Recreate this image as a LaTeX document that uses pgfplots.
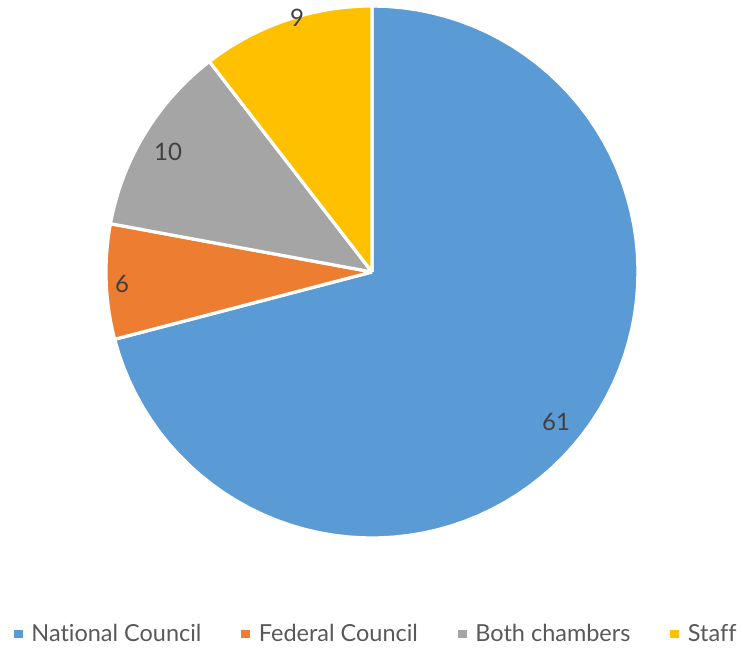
\documentclass[border=0pt]{standalone}
\usepackage{pgfplots}
\pgfplotsset{compat=1.18}
\usepackage{pgfplotstable}
\usepackage{fontspec}
\setmainfont{Lato}[Ligatures={NoCommon}]
\definecolor{cBlue}{HTML}{5B9BD5}
\definecolor{cOrange}{HTML}{ED7D31}
\definecolor{cGray}{HTML}{A5A5A5}
\definecolor{cYellow}{HTML}{FFC000}
\definecolor{lblText}{HTML}{404040}
\definecolor{legText}{HTML}{595959}

\pgfplotstableread{
label value
National 61
Federal 6
Both 10
Staff 9
}\piedata
\pgfplotstablegetelem{0}{value}\of\piedata \let\vA\pgfplotsretval
\pgfplotstablegetelem{1}{value}\of\piedata \let\vB\pgfplotsretval
\pgfplotstablegetelem{2}{value}\of\piedata \let\vC\pgfplotsretval
\pgfplotstablegetelem{3}{value}\of\piedata \let\vD\pgfplotsretval
\pgfmathsetmacro{\tot}{\vA+\vB+\vC+\vD}
\pgfmathsetmacro{\aA}{90}
\pgfmathsetmacro{\aB}{\aA-360*(\vA/\tot)}
\pgfmathsetmacro{\aC}{\aB-360*(\vB/\tot)}
\pgfmathsetmacro{\aD}{\aC-360*(\vC/\tot)}
\pgfmathsetmacro{\aE}{\aD-360*(\vD/\tot)}

\newcommand{\pieslice}[3]{%
  \addplot[fill=#1, draw=white, line width=2.4pt, line join=round,
    variable=\t, samples at={-1,0,...,80,81}]
    ({372+266*(\t>=0)*(\t<=80)*cos(#2+(#3-#2)*max(0,min(80,\t))/80)},
     {377+266*(\t>=0)*(\t<=80)*sin(#2+(#3-#2)*max(0,min(80,\t))/80)});
}

\begin{document}
\begin{tikzpicture}
\begin{axis}[
  scale only axis, width=557.25pt, height=486.75pt,
  xmin=0, xmax=743, ymin=0, ymax=649,
  hide axis, clip=false,
  legend columns=4,
  legend style={at={(0.505,0.008)}, anchor=south, draw=none, fill=none,
    inner sep=0pt, outer sep=0pt,
    font=\fontsize{17.6}{20}\selectfont, text=legText,
    nodes={inner sep=0pt},
    /tikz/every odd column/.append style={column sep=6.5pt},
    /tikz/every even column/.append style={column sep=30pt}},
  legend image code/.code={\fill[#1, draw=none] (0pt,-3.2pt) rectangle (6.6pt,3.2pt);},
]
\pieslice{cBlue}{\aA}{\aB}
\addlegendentry{National Council}
\pieslice{cOrange}{\aB}{\aC}
\addlegendentry{Federal Council}
\pieslice{cGray}{\aC}{\aD}
\addlegendentry{Both chambers}
\pieslice{cYellow}{\aD}{\aE}
\addlegendentry{Staff}
\node[text=lblText, font=\fontsize{18}{20}\selectfont] at (axis cs:556,227) {61};
\node[text=lblText, font=\fontsize{18}{20}\selectfont] at (axis cs:122,365) {6};
\node[text=lblText, font=\fontsize{18}{20}\selectfont] at (axis cs:168,497) {10};
\node[text=lblText, font=\fontsize{18}{20}\selectfont] at (axis cs:297,631) {9};
\end{axis}
\path (current axis.south west) rectangle (current axis.north east);
\end{tikzpicture}
\end{document}
